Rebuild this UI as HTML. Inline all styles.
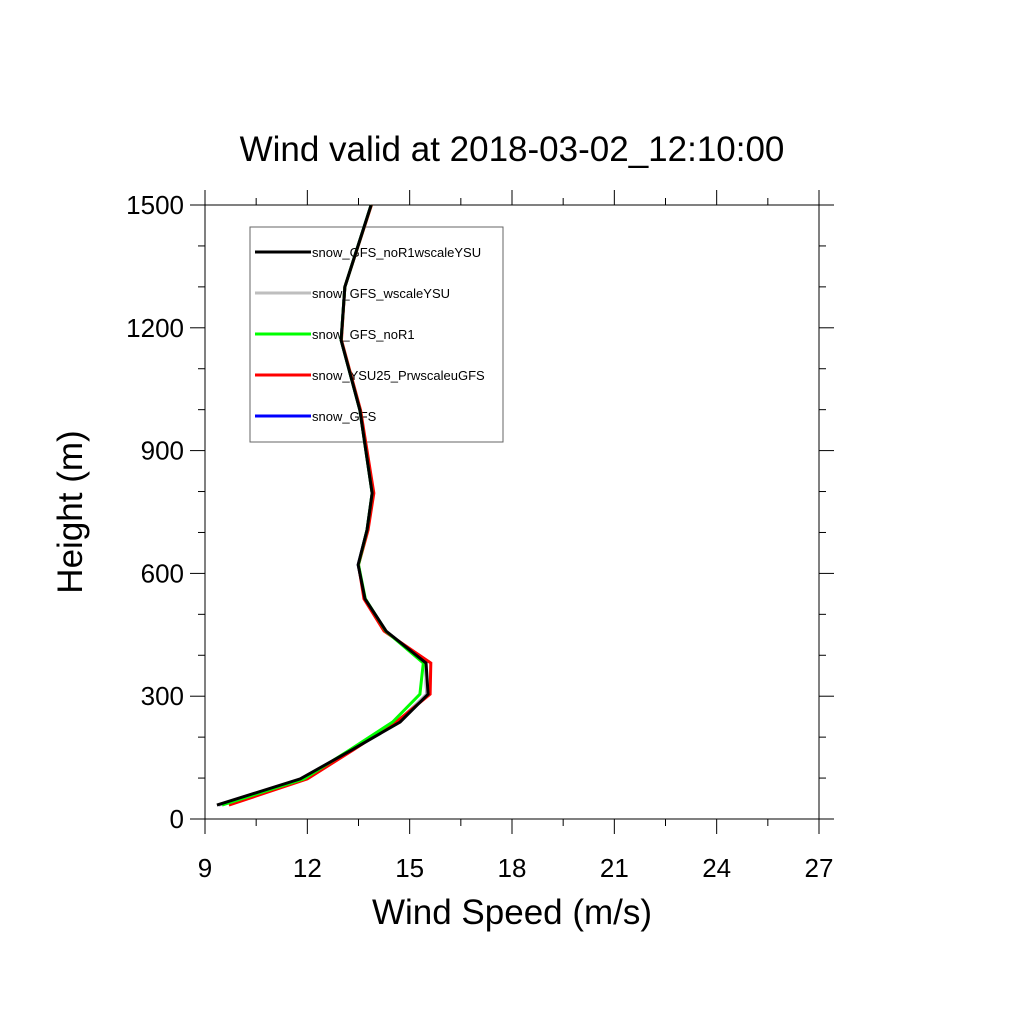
<!DOCTYPE html>
<html><head><meta charset="utf-8"><style>
body{margin:0;background:#fff}
svg text{font-family:"Liberation Sans",Arial,sans-serif;fill:#000}
</style></head><body>
<svg id="chart" width="1024" height="1024">
<text x="512" y="161" font-size="35" text-anchor="middle">Wind valid at 2018-03-02_12:10:00</text>
<text x="512" y="924" font-size="35" text-anchor="middle">Wind Speed (m/s)</text>
<text transform="translate(82,512) rotate(-90)" font-size="35" text-anchor="middle">Height (m)</text>
<g id="legend"></g>
<g id="axes"></g>
<g id="series"></g>
</svg>
<script>
const heights=[34,98,169,237,305,381,459,538,621,706,796,999,1170,1300,1500];
const blackVals=[9.35,11.79,13.31,14.72,15.54,15.48,14.31,13.69,13.49,13.75,13.9,13.54,12.99,13.1,13.87];
const grayVals=[9.4,11.85,13.3,14.65,15.5,15.46,14.3,13.69,13.49,13.75,13.9,13.54,12.99,13.1,13.87];
const greenVals=[9.5,11.9,13.25,14.5,15.3,15.4,14.3,13.7,13.5,13.75,13.9,13.54,12.99,13.1,13.87];
const redVals=[9.7,12.0,13.35,14.6,15.6,15.62,14.25,13.66,13.5,13.78,13.95,13.56,13.0,13.1,13.88];
const blueVals=[9.4,11.85,13.3,14.65,15.5,15.46,14.3,13.69,13.49,13.75,13.9,13.54,12.99,13.1,13.87];
const xTicks=[9,12,15,18,21,24,27];
const yTicks=[0,300,600,900,1200,1500];
const seriesNames=["snow_GFS_noR1wscaleYSU","snow_GFS_wscaleYSU","snow_GFS_noR1","snow_YSU25_PrwscaleuGFS","snow_GFS"];
const NS="http://www.w3.org/2000/svg";
const L=205,R=819,T=205,B=819;
const xs=v=>L+(v-9)/18*(R-L);
const ys=v=>B-v/1500*(B-T);
function mk(t,a,p){const e=document.createElementNS(NS,t);for(const k in a)e.setAttribute(k,a[k]);p.appendChild(e);return e;}
const lg=document.getElementById('legend');
const box=mk('rect',{x:250,y:227,width:253,height:215,fill:'#fff',stroke:'#666','stroke-width':1},lg);


const lc=['#000000','#bebebe','#00ff00','#ff0000','#0000ff'];
seriesNames.forEach((n,i)=>{const y=252+i*41;
 const l=mk('line',{x1:255,x2:311,y1:y,y2:y,stroke:lc[i],'stroke-width':3},lg);
 
 
 const t=mk('text',{x:312,y:y+5,'font-size':13},lg);t.textContent=n;
 
 });
const ax=document.getElementById('axes');
const frame=mk('rect',{x:L,y:T,width:R-L,height:B-T,fill:'none',stroke:'#000','stroke-width':1},ax);


for(let v=9;v<=27;v+=1.5){const major=xTicks.includes(v);const len=major?15:7;const x=xs(v);
 const t1=mk('line',{x1:x,x2:x,y1:B,y2:B+len,stroke:'#000'},ax);
 
 
 const t2=mk('line',{x1:x,x2:x,y1:T,y2:T-len,stroke:'#000'},ax);
 
 }
xTicks.forEach(v=>{const t=mk('text',{x:xs(v),y:B+58,'font-size':26,'text-anchor':'middle'},ax);t.textContent=v;
 
 });
for(let v=0;v<=1500;v+=100){const major=v%300===0;const len=major?15:7;const y=ys(v);
 const t1=mk('line',{x1:L,x2:L-len,y1:y,y2:y,stroke:'#000'},ax);
 
 
 const t2=mk('line',{x1:R,x2:R+len,y1:y,y2:y,stroke:'#000'},ax);
 
 }
yTicks.forEach(v=>{const t=mk('text',{x:L-21,y:ys(v)+9,'font-size':26,'text-anchor':'end'},ax);t.textContent=v;
 
 });
const sg=document.getElementById('series');
const sets=[[blueVals,'#0000ff','snow-gfs-line'],[grayVals,'#bebebe','snow-gfs-wscaleysu-line'],[redVals,'#ff0000','snow-ysu25-line'],[greenVals,'#00ff00','snow-gfs-nor1-line'],[blackVals,'#000000','snow-gfs-nor1wscaleysu-line']];
sets.forEach(([vals,c,n])=>{const p=mk('polyline',{points:vals.map((v,i)=>xs(v)+','+ys(heights[i])).join(' '),fill:'none',stroke:c,'stroke-width':3,'stroke-linejoin':'miter'},sg);
 
 });
</script>
</body></html>
